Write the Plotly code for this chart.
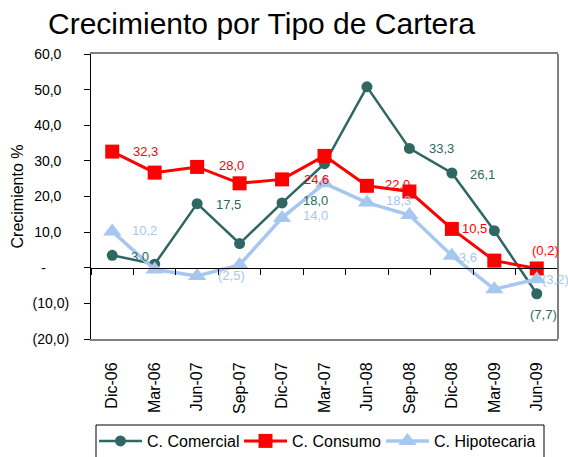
import plotly.graph_objects as go

categories = ["Dic-06", "Mar-06", "Jun-07", "Sep-07", "Dic-07", "Mar-07",
              "Jun-08", "Sep-08", "Dic-08", "Mar-09", "Jun-09"]

comercial = [3.5, 1.0, 18.0, 6.8, 18.2, 29.2, 50.8, 33.5, 26.6, 10.4, -7.3]
consumo = [32.6, 26.7, 28.3, 23.7, 24.8, 31.4, 23.0, 21.4, 10.9, 2.0, -0.2]
hipotecaria = [10.2, -0.5, -2.3, 0.8, 14.0, 23.7, 18.3, 14.8, 3.4, -6.0, -3.2]

comercial_labels = ["3,0", None, "17,5", None, "18,0", None, None, "33,3", "26,1", None, "(7,7)"]
consumo_labels = ["32,3", None, "28,0", None, "24,6", None, "22,0", None, "10,5", None, "(0,2)"]
hipotecaria_labels = ["10,2", None, "(2,5)", None, "14,0", None, "18,3", None, "3,6", None, "(3,2)"]

FS = "\u2007"
y_tickvals = [-20, -10, 0, 10, 20, 30, 40, 50, 60]
y_ticktext = ["(20,0)", "(10,0)", "-" + FS * 3, "10,0" + FS, "20,0" + FS, "30,0" + FS,
              "40,0" + FS, "50,0" + FS, "60,0" + FS]

# label offsets in pixels (style)
comercial_off = [(28, -1), None, (31, -1), None, (33, 2), None, None, (32, 0), (31, -2), None, (7, -21)]
consumo_off = [(33, 0), None, (34, 1), None, (34, 0), None, (31, 1), None, (23, 0), None, (9, 18)]
hipotecaria_off = [(32, 1), None, (34, 0), None, (33, 2), None, (32, 2), None, (16, -2), None, (19, 0)]

C_COM = "#2F6763"
C_CON = "#FF0000"
C_HIP = "#A6C8F0"
FONT = "Liberation Sans, Arial, sans-serif"

W, H = 568, 457
ML, MR, MT, MB = 91, 10, 54, 118
PW, PH = W - ML - MR, H - MT - MB

fig = go.Figure()
fig.add_trace(go.Scatter(x=categories, y=comercial, name="C. Comercial", mode="lines+markers",
                         line=dict(color=C_COM, width=2.5), legend="legend",
                         marker=dict(symbol="circle", size=11, color=C_COM)))
fig.add_trace(go.Scatter(x=categories, y=consumo, name="C. Consumo", mode="lines+markers",
                         line=dict(color=C_CON, width=3), legend="legend2",
                         marker=dict(symbol="square", size=14, color=C_CON)))
fig.add_trace(go.Scatter(x=categories, y=hipotecaria, name="C. Hipotecaria", mode="lines+markers",
                         line=dict(color=C_HIP, width=3.5), legend="legend3",
                         marker=dict(symbol="triangle-up", size=16, color=C_HIP)))
# helper trace for zero-line tick axis
fig.add_trace(go.Scatter(x=categories, y=[0] * len(categories), xaxis="x2", yaxis="y",
                         mode="markers", marker=dict(opacity=0), showlegend=False,
                         hoverinfo="skip"))

annotations = []
for vals, labs, offs, col in [(comercial, comercial_labels, comercial_off, C_COM),
                              (consumo, consumo_labels, consumo_off, C_CON),
                              (hipotecaria, hipotecaria_labels, hipotecaria_off, C_HIP)]:
    for i, (v, t, o) in enumerate(zip(vals, labs, offs)):
        if t is None:
            continue
        annotations.append(dict(x=categories[i], y=v, xref="x", yref="y", text=t,
                                showarrow=False, xshift=o[0], yshift=o[1],
                                font=dict(family=FONT, size=13, color=col)))

annotations.append(dict(text="Crecimiento %", textangle=-90, xref="paper", yref="paper",
                        x=(17 - ML) / PW, y=0.5, xanchor="center", yanchor="middle",
                        showarrow=False, font=dict(family=FONT, size=16, color="black")))


def leg(px):
    return dict(orientation="h", xref="container", yref="container",
                x=px / W, y=1 - 424 / H, xanchor="left", yanchor="top",
                borderwidth=0, bgcolor="rgba(0,0,0,0)", itemwidth=43,
                font=dict(family=FONT, size=16, color="black"))


fig.update_layout(
    width=W, height=H,
    margin=dict(l=ML, r=MR, t=MT, b=MB, autoexpand=False),
    paper_bgcolor="white", plot_bgcolor="white",
    font=dict(family=FONT, color="black"),
    title=dict(text="Crecimiento por Tipo de Cartera", x=48 / W, xanchor="left",
               xref="container", yref="container", y=1 - 23 / H, yanchor="middle",
               font=dict(family=FONT, size=30, color="black")),
    showlegend=True,
    legend=leg(94), legend2=leg(239), legend3=leg(381),
    annotations=annotations,
    xaxis=dict(type="category", categoryorder="array", categoryarray=categories,
               range=[-0.5, 10.5], showline=True, linecolor="#808080", linewidth=2,
               mirror=True, ticks="", tickangle=-90, showgrid=False, zeroline=False,
               automargin=False,
               tickfont=dict(family=FONT, size=16, color="black"), ticklabelstandoff=15),
    xaxis2=dict(type="category", categoryorder="array", categoryarray=categories,
                range=[-0.5, 10.5], overlaying="x", anchor="free", position=0.25,
                showline=True, linecolor="black", linewidth=1, ticks="outside",
                ticklen=6, tickcolor="black", tickson="boundaries", automargin=False,
                showticklabels=False, showgrid=False, zeroline=False),
    yaxis=dict(range=[-20, 60], tickvals=y_tickvals, ticktext=y_ticktext,
               showline=True, linecolor="black", linewidth=1, ticks="outside",
               ticklen=6, tickcolor="black", showgrid=False, zeroline=False,
               automargin=False,
               tickfont=dict(family=FONT, size=14, color="black"), ticklabelstandoff=12),
    shapes=[dict(type="line", xref="paper", yref="paper", x0=1, x1=1, y0=0, y1=1,
                 line=dict(color="#808080", width=2), layer="above"),
            dict(type="rect", xref="paper", yref="paper",
                 x0=(96 - ML) / PW, x1=(544 - ML) / PW,
                 y0=(MT + PH - 425) / PH, y1=(MT + PH - 475) / PH,
                 line=dict(color="black", width=1), fillcolor="rgba(0,0,0,0)",
                 layer="above")],
)

fig.write_html("out.html", config={"displayModeBar": False},
               post_script="document.body.style.margin='0';document.body.style.overflow='hidden';")
